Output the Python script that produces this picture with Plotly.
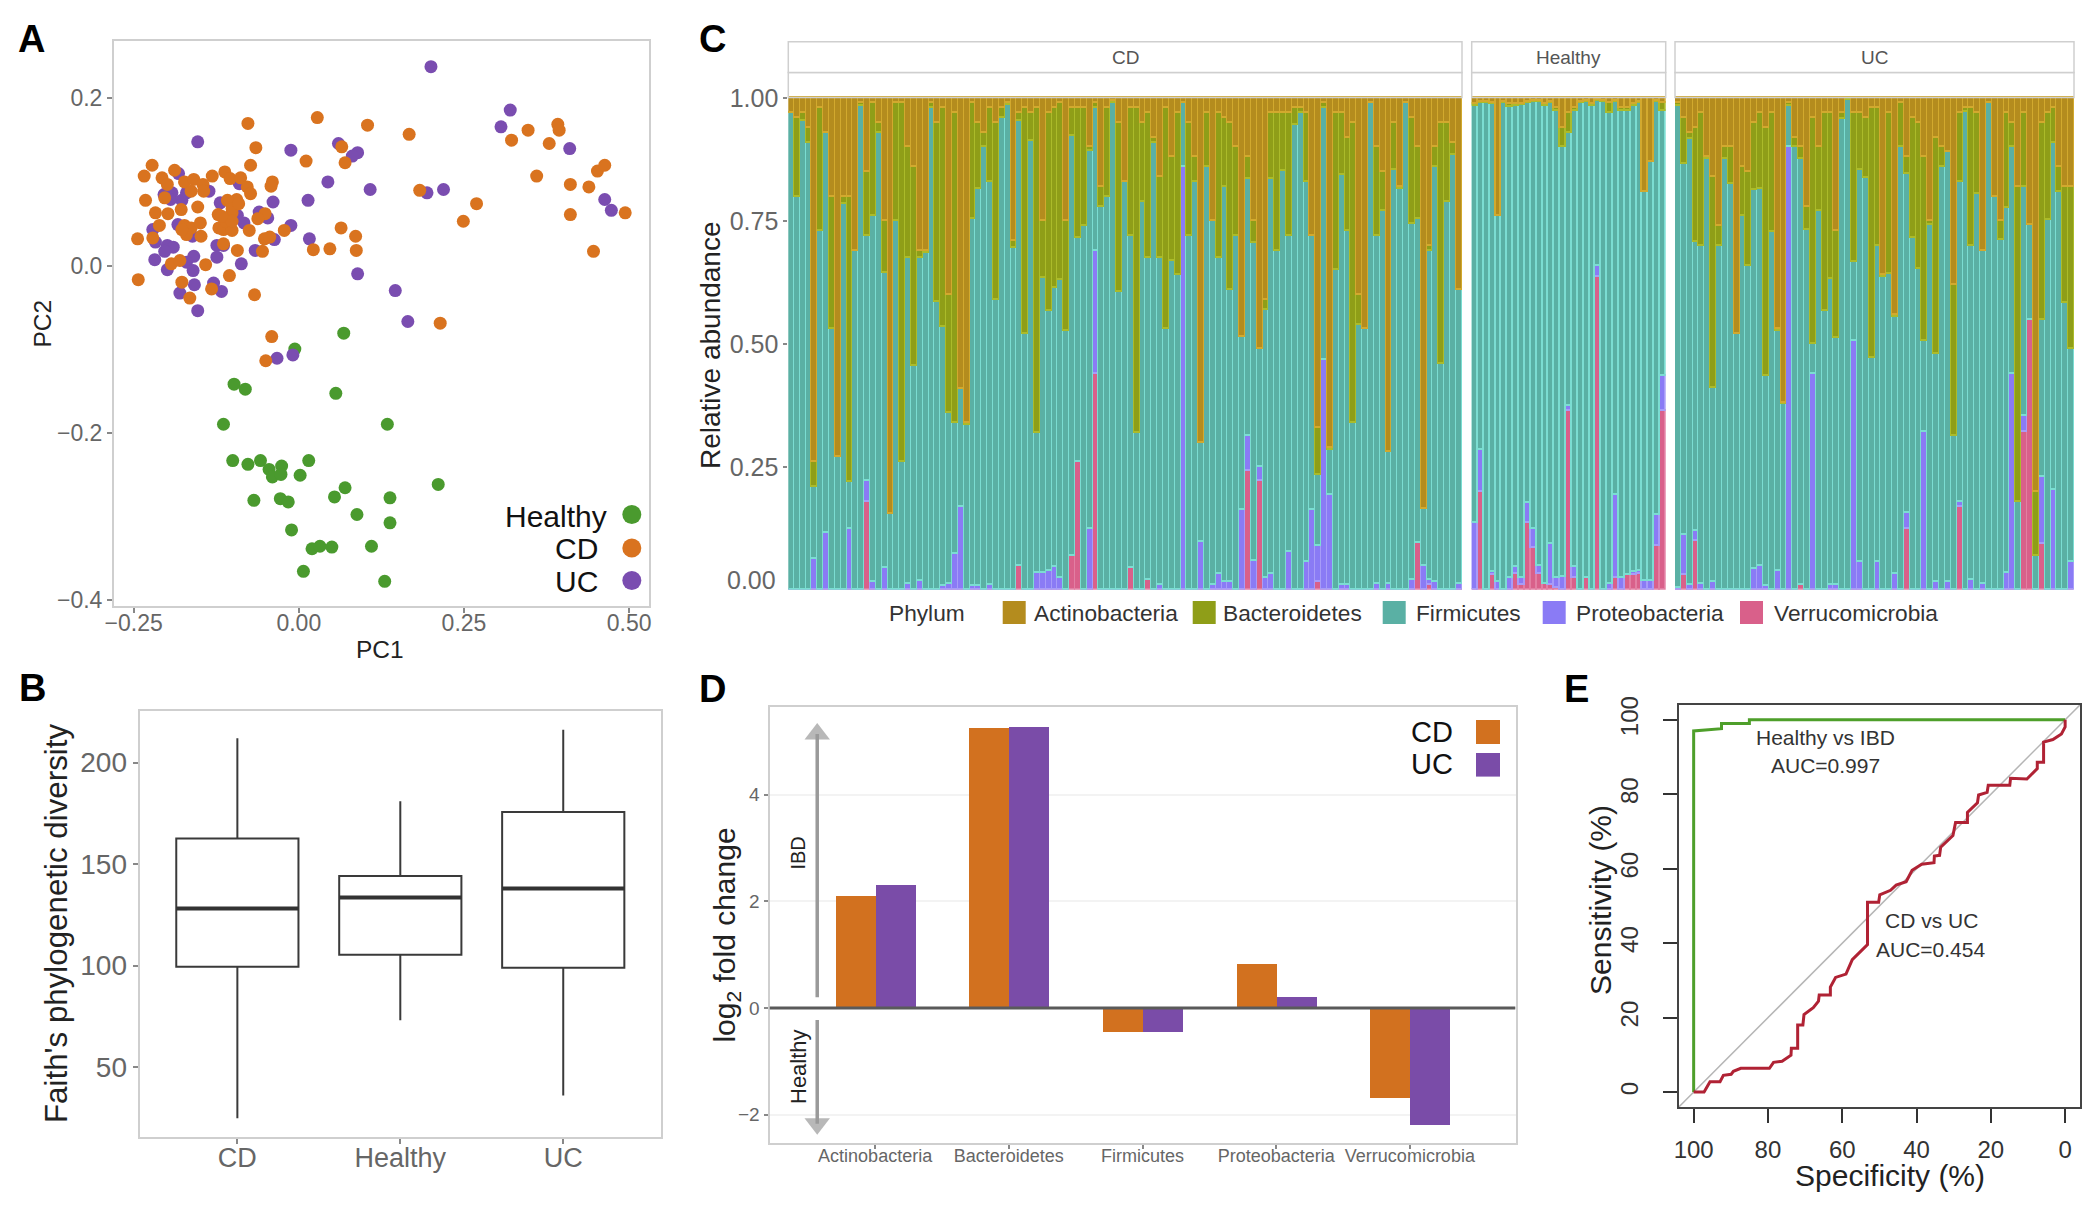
import numpy as np
import plotly.graph_objects as go

W, H = 2100, 1214      # reference picture
M = 8                  # page margin of the browser body
FW, FH = W - 2 * M, H - 2 * M   # figure fits inside the page without overflow
FONT = "Liberation Sans"
ORANGE, PURPLE, GREEN = "#D9731F", "#7A4DB0", "#4A9A2E"
C_ACT, C_BAC, C_FIR, C_PRO, C_VER = "#B48C1E", "#8F9E18", "#5AB0A4", "#8A7BF5", "#D9608A"
L_ACT, L_BAC, L_FIR, L_PRO, L_VER = "#D2A92E", "#ABBB2A", "#7BDDD2", "#A79CF8", "#E27FA3"

# ---------- Panel A ----------
healthy_pc1 = [0.068,-0.006,-0.098,-0.081,0.056,-0.114,0.134,-0.100,-0.077,-0.058,-0.045,-0.026,-0.040,-0.027,0.002,0.015,0.211,0.070,0.054,0.138,-0.068,-0.028,-0.016,0.088,0.138,-0.011,0.020,0.032,0.050,0.110,0.007,0.130]
healthy_pc2 = [-0.081,-0.100,-0.142,-0.148,-0.153,-0.190,-0.190,-0.2335,-0.238,-0.2335,-0.244,-0.240,-0.253,-0.250,-0.251,-0.2335,-0.262,-0.266,-0.277,-0.278,-0.281,-0.279,-0.283,-0.298,-0.308,-0.3165,-0.339,-0.336,-0.337,-0.336,-0.366,-0.378]
uc_pc1 = [0.200,0.320,0.306,-0.153,0.060,-0.012,0.410,0.089,0.081,0.044,0.108,0.194,0.219,0.014,0.463,0.473,-0.182,-0.204,-0.192,-0.170,-0.177,-0.136,-0.090,-0.119,-0.039,-0.060,-0.047,-0.093,-0.083,-0.183,-0.012,0.016,-0.037,-0.066,-0.124,-0.114,-0.221,-0.217,-0.199,-0.190,-0.203,-0.159,-0.124,-0.218,-0.170,-0.087,-0.199,-0.160,-0.158,-0.129,-0.180,-0.117,-0.153,0.089,0.146,0.165,-0.009,-0.033,-0.194,-0.161]
uc_pc2 = [0.238,0.186,0.166,0.148,0.146,0.138,0.140,0.135,0.131,0.100,0.091,0.087,0.091,0.078,0.079,0.066,0.110,0.085,0.087,0.087,0.078,0.089,0.098,0.075,0.076,0.064,0.057,0.060,0.051,0.049,0.048,0.032,0.031,0.018,0.024,0.024,0.043,0.028,0.024,0.022,0.017,0.011,0.010,0.007,0.004,0.002,-0.005,-0.006,-0.023,-0.021,-0.033,-0.031,-0.054,-0.010,-0.030,-0.067,-0.107,-0.111,0.079,0.035]
cd_pc1 = [0.028,-0.077,0.104,0.167,-0.065,0.065,0.011,0.070,-0.222,-0.073,-0.234,-0.188,-0.207,-0.199,-0.173,-0.159,-0.145,-0.131,-0.112,-0.104,-0.088,-0.078,-0.073,-0.040,-0.042,-0.232,-0.203,-0.178,-0.153,-0.217,-0.198,-0.122,-0.101,-0.094,-0.108,-0.101,-0.051,-0.062,-0.211,-0.121,-0.173,-0.163,-0.149,-0.170,-0.148,-0.114,-0.101,-0.075,-0.022,0.064,0.086,-0.244,-0.221,-0.114,-0.052,-0.044,0.022,0.047,0.087,-0.093,-0.055,-0.193,-0.180,-0.141,-0.243,-0.105,-0.177,-0.132,-0.067,-0.165,0.214,-0.041,-0.050,0.183,0.269,0.249,0.322,0.347,0.392,0.394,0.379,0.360,0.411,0.439,0.452,0.463,0.411,0.494,0.446,-0.163,-0.177,-0.144,-0.091,-0.111,-0.101,-0.117]
cd_pc2 = [0.177,0.170,0.168,0.157,0.141,0.142,0.125,0.123,0.120,0.120,0.107,0.114,0.105,0.097,0.100,0.103,0.097,0.107,0.112,0.104,0.105,0.094,0.086,0.100,0.095,0.078,0.081,0.067,0.070,0.063,0.062,0.061,0.063,0.079,0.078,0.068,0.062,0.056,0.048,0.045,0.048,0.045,0.051,0.037,0.035,0.043,0.042,0.042,0.042,0.045,0.035,0.032,0.033,0.026,0.032,0.034,0.019,0.020,0.018,0.018,0.017,0.002,0.006,0.001,-0.017,-0.012,-0.020,-0.028,-0.035,-0.039,-0.069,-0.085,-0.114,0.090,0.074,0.053,0.150,0.162,0.169,0.162,0.146,0.107,0.097,0.094,0.113,0.120,0.061,0.063,0.017,0.089,0.043,0.089,0.074,0.053,0.053,0.059]
legend_groups = ["Healthy", "CD", "UC"]

# ---------- Panel B ----------
box_groups = ["CD", "Healthy", "UC"]
box_q1 = [99.4, 105.3, 98.9]
box_med = [128.1, 133.5, 137.9]
box_q3 = [162.6, 144.1, 175.6]
box_lo = [24.8, 73.0, 36.0]
box_hi = [212.0, 180.9, 216.2]

# ---------- Panel C ----------
cd_firm_top = [.97,.80,.953,.91,.21,.73,.93,.53,.27,.785,.22,.69,.985,.72,.76,.93,.645,.155,.75,.26,.675,.455,.675,.685,.98,.585,.535,.36,.34,.41,.335,.755,.815,.90,.83,.59,.96,.987,.695,.953,.52,.913,.32,.635,.567,.615,.63,.527,.923,.716,.74,.893,.98,.78,.80,.99,.607,.83,.72,.32,.79,.675,.91,.675,.53,.67,.64,.99,
 .72,.83,.30,.86,.75,.675,.82,.61,.72,.515,.835,.705,.49,.57,.835,.69,.853,.72,.945,.97,.83,.72,.235,.98,.285,.65,.845,.73,.34,.54,.53,.99,.72,.77,.28,.855,.815,.99,.745,.755,.165,.69,.86,.46,.79,.885,.61]
cd_actino = [.03,.04,.03,.06,.74,.02,.07,.20,.73,.20,.20,.31,.01,.15,.01,.05,.25,.845,.01,.01,.10,.14,.31,.31,.01,.05,.02,.40,.03,.59,.66,.01,.05,.07,.02,.05,.02,.01,.29,.03,.02,.03,.02,.25,.03,.02,.01,.25,.02,.02,.02,.10,.01,.18,.02,.005,.05,.17,.02,.02,.05,.03,.08,.16,.02,.12,.03,.01,
 .05,.12,.70,.03,.25,.03,.04,.05,.10,.485,.12,.25,.51,.41,.03,.03,.03,.03,.02,.02,.03,.28,.67,.01,.71,.03,.03,.08,.05,.40,.47,.01,.10,.15,.72,.05,.18,.01,.04,.10,.835,.30,.10,.05,.05,.09,.39]
cd_verr_idx = [13,39,48,49,52,58,61,78,80,90,107,109]
cd_verr = [.18,.05,.07,.26,.44,.045,.02,.242,.222,.017,.096,.01]
cd_prot_idx = [4,6,10,13,14,16,20,22,26,27,28,29,31,32,34,42,43,44,45,46,51,52,63,67,70,72,73,74,75,77,78,79,80,81,82,85,88,89,90,91,92,94,95,100,102,106,108,109,110,114]
cd_prot_top = [.063,.117,.125,.222,.017,.045,.013,.018,.008,.013,.073,.17,.008,.008,.01,.035,.035,.04,.048,.024,.125,.69,.01,.86,.097,.01,.033,.017,.017,.163,.314,.06,.25,.025,.033,.077,.057,.163,.09,.467,.194,.01,.01,.012,.012,.02,.05,.02,.017,.013]

hl_firm_top = [.985,.99,.99,.988,.76,.99,.983,.985,.986,.99,.993,.993,.985,.99,.975,.90,.93,.975,.99,.993,.985,.995,.993,.97,.993,.975,.975,.985,.99,.81,.87,.993,.975]
hl_actino = [.012,.008,.008,.01,.24,.008,.012,.012,.012,.008,.006,.006,.012,.008,.02,.06,.03,.02,.008,.006,.012,.004,.006,.01,.006,.02,.02,.012,.008,.19,.13,.006,.01]
hl_verr_idx = [1,3,7,8,9,10,11,12,13,14,16,17,19,21,24,26,27,28,31,32]
hl_verr = [.20,.03,.033,.01,.137,.085,.033,.013,.01,.005,.365,.025,.025,.637,.025,.03,.03,.033,.09,.365]
hl_prot_idx = [0,1,3,4,6,7,8,9,10,11,13,14,15,16,17,21,23,24,25,27,28,29,30,31,32]
hl_prot_top = [.137,.285,.037,.017,.025,.047,.025,.178,.125,.05,.093,.025,.027,.375,.047,.66,.013,.194,.025,.037,.04,.018,.018,.153,.436]

uc_firm_top = [.985,.867,.917,.708,.70,.877,.412,.70,.877,.825,.52,.76,.66,.813,.815,.436,.728,.527,.378,.985,.90,.877,.732,.50,.77,.567,.632,.513,.957,.997,.668,.855,.838,.473,.70,.636,.642,.555,.90,.846,.715,.652,.507,.743,.48,.86,.89,.314,.83,.972,.70,.806,.69,.99,.80,.712,.776,.90,.18,.82,.742,.07,.55,.752,.91,.81,.583,.49]
uc_actino = [.01,.04,.07,.06,.03,.12,.16,.26,.10,.10,.48,.14,.15,.05,.03,.06,.03,.47,.62,.01,.08,.10,.22,.04,.10,.03,.03,.27,.03,.0,.03,.03,.04,.02,.02,.36,.03,.44,.01,.12,.04,.05,.12,.25,.08,.10,.11,.38,.03,.02,.02,.03,.31,.01,.20,.25,.03,.05,.18,.03,.26,.80,.05,.03,.02,.14,.18,.18]
uc_verr_idx = [1,3,21,39,48,59,60,62]
uc_verr = [.03,.10,.01,.125,.17,.322,.55,.093]
uc_prot_idx = [0,1,2,3,4,6,13,14,15,17,19,23,26,27,30,31,34,37,39,42,44,46,48,50,52,56,57,59,62,64,67]
uc_prot_top = [.005,.113,.01,.12,.013,.017,.043,.05,.008,.04,.90,.44,.01,.01,.507,.057,.057,.033,.157,.322,.017,.017,.18,.02,.013,.035,.44,.355,.23,.203,.057]

facet_names = ["CD", "Healthy", "UC"]
phyla = ["Actinobacteria", "Bacteroidetes", "Firmicutes", "Proteobacteria", "Verrucomicrobia"]
abund_ticks = [.25, .5, .75, 1]
abund_ticktext = ["0.25", "0.50", "0.75", "1.00"]

# ---------- Panel D ----------
fold_cd = [2.10, 5.26, -0.45, 0.83, -1.68]
fold_uc = [2.31, 5.28, -0.44, 0.22, -2.18]
arrow_up_y = [0.2, 5.14]
arrow_down_y = [-0.225, -2.17]

# ---------- Panel E ----------
healthy_spec = [100,100,92.5,92.5,85,85,0]
healthy_sens = [0,97,97.6,99,99,100,100]
cduc_spec = [100,97.2,95.6,92.9,92,89.9,89.3,87.3,79.6,78.5,76.2,73.8,73.7,72,72,70.6,70.3,67.8,66.4,66.2,63.2,63.2,61.8,59,57.3,53.2,53.2,50.2,49.9,47,45.5,42.8,41.2,38.6,35.3,35.2,33.8,33.5,30.2,29.5,26.3,26.3,23.6,23.3,21,20.7,14.9,14.7,10.3,7.5,7.5,5.8,5.8,3.3,1,0,0]
cduc_sens = [0,0,2.8,2.8,4.5,4.8,5.6,6.4,6.4,8,8.3,9.9,11.8,11.8,18,18,20.8,22.7,24.4,26.1,26.1,28.2,30.8,31.7,35.6,39.6,51,51,53,54.2,55.6,56.5,59.6,61.2,61.6,63.4,63.6,65.8,68.9,72.4,72.4,75.1,77.7,79.8,80.5,82.4,82.4,84.3,84.1,86.9,88.6,88.6,94,94.7,96.2,98.1,100]

# ---------- helpers ----------
def px(x): return (x - M) / FW
def py(y): return 1 - (y - M) / FH
def dx(a, b): return [px(a), px(b)]
def dy(top, bottom): return [py(bottom), py(top)]

annotations, shapes = [], []
def T(text, x, y, size, color="#222", bold=False, rot=0, anchor="center"):
    annotations.append(dict(text=f"<b>{text}</b>" if bold else text, x=px(x), y=py(y),
                            xref="paper", yref="paper", showarrow=False, textangle=rot,
                            xanchor=anchor, yanchor="middle",
                            font=dict(family=FONT, size=size, color=color)))
def R(x0, y0, x1, y1, fill, line="rgba(0,0,0,0)", lw=0, layer="above"):
    shapes.append(dict(type="rect", xref="paper", yref="paper", x0=px(x0), x1=px(x1),
                       y0=py(y0), y1=py(y1), fillcolor=fill, layer=layer,
                       line=dict(color=line, width=lw)))

def axis_common(size, color="#666", border="#CFCFCF", bw=2, ticklen=5, tickcolor="#888"):
    return dict(showgrid=False, zeroline=False, showline=True, linecolor=border, linewidth=bw, mirror=True,
                automargin=False, ticks="outside", ticklen=ticklen, tickwidth=1.5, tickcolor=tickcolor,
                tickfont=dict(family=FONT, size=size, color=color))

fig = go.Figure()
layout = dict(width=FW, height=FH, margin=dict(l=0, r=0, t=0, b=0, autoexpand=False), paper_bgcolor="white",
              plot_bgcolor="white", showlegend=False, barmode="stack", bargap=0)

# Panel A
layout["xaxis"] = dict(domain=dx(114, 649), range=[-0.2797, 0.530], tickvals=[-.25, 0, .25, .5],
                       ticktext=["\u22120.25", "0.00", "0.25", "0.50"], anchor="y", ticklabelstandoff=-10, **axis_common(23))
layout["yaxis"] = dict(domain=dy(41, 606), range=[-0.4075, 0.2687], tickvals=[-.4, -.2, 0, .2],
                       ticktext=["\u22120.4", "\u22120.2", "0.0", "0.2"], anchor="x", **axis_common(23))
def scatter(x, y, c, size=13):
    fig.add_trace(go.Scatter(x=x, y=y, mode="markers", marker=dict(color=c, size=size, line=dict(width=0)),
                             xaxis="x", yaxis="y", cliponaxis=False))
scatter(healthy_pc1, healthy_pc2, GREEN)
scatter(uc_pc1, uc_pc2, PURPLE)
scatter(cd_pc1, cd_pc2, ORANGE)
scatter([0.504] * 3, [-0.298, -0.338, -0.377], [GREEN, ORANGE, PURPLE], size=19)
for g, xr, yc in zip(legend_groups, [609, 600, 600], [516, 548.6, 581]):
    T(g, xr, yc, 30, "#111", anchor="right")
T("PC1", 379.5, 649, 24.5, "#222")
T("PC2", 41.6, 324, 24.5, "#222", rot=-90)

# Panel B
layout["xaxis2"] = dict(domain=dx(139.6, 661), range=[-0.6, 2.6], tickvals=[0, 1, 2], ticktext=box_groups,
                        anchor="y2", ticklabelstandoff=-9, **axis_common(27))
layout["yaxis2"] = dict(domain=dy(711, 1137), range=[15.5, 225.4], tickvals=[50, 100, 150, 200],
                        anchor="x2", **axis_common(28))
for i in range(3):
    fig.add_trace(go.Box(x=[i], q1=[box_q1[i]], median=[box_med[i]], q3=[box_q3[i]],
                         lowerfence=[box_lo[i]], upperfence=[box_hi[i]], width=0.75, whiskerwidth=0,
                         boxpoints=False, fillcolor="white", line=dict(color="#3a3a3a", width=2),
                         xaxis="x2", yaxis="y2"))
    fig.add_trace(go.Scatter(x=[i - .375, i + .375], y=[box_med[i]] * 2, mode="lines",
                             line=dict(color="#333", width=4), xaxis="x2", yaxis="y2"))
T("Faith's phylogenetic diversity", 56, 924, 31.3, "#222", rot=-90)

# Panel D
layout["xaxis3"] = dict(domain=dx(769.5, 1515.5), range=[-0.79, 4.79], tickvals=list(range(5)), ticktext=phyla,
                        anchor="y3", ticklabelstandoff=-9, **axis_common(18, ticklen=4))
layout["yaxis3"] = dict(domain=dy(706.6, 1143), range=[-2.533, 5.655], tickvals=[-2, 0, 2, 4],
                        ticktext=["\u22122", "0", "2", "4"], anchor="x3", **axis_common(19, ticklen=4))
layout["yaxis3"].update(showgrid=True, gridcolor="#F3F3F3", gridwidth=1.5)
pos = np.arange(5)
fig.add_trace(go.Bar(x=pos - .15, y=fold_cd, width=.3, marker=dict(color="#D2711F", line=dict(width=0)), xaxis="x3", yaxis="y3"))
fig.add_trace(go.Bar(x=pos + .15, y=fold_uc, width=.3, marker=dict(color="#7A4CA8", line=dict(width=0)), xaxis="x3", yaxis="y3"))
shapes.append(dict(type="line", xref="x3", yref="y3", x0=-0.79, x1=4.79, y0=0, y1=0, line=dict(color="#5a5a5a", width=3), layer="above"))
for ys, sym in [(arrow_up_y, "triangle-up"), (arrow_down_y, "triangle-down")]:
    fig.add_trace(go.Scatter(x=[-0.433, -0.433], y=ys, mode="lines+markers", xaxis="x3", yaxis="y3",
                             line=dict(color="#9a9a9a", width=3.5),
                             marker=dict(symbol=["circle", sym], size=[0, 22], color="#9a9a9a", line=dict(width=0))))
R(1476, 720, 1500, 744, "#D2711F")
R(1476, 753, 1500, 776.6, "#7A4CA8")
T("CD", 1455, 732, 29, "#111", anchor="right")
T("UC", 1455, 764, 29, "#111", anchor="right")
T("IBD", 798, 853.6, 20, "#222", rot=-90)
T("Healthy", 798, 1067, 22, "#222", rot=-90)
T("log<sub>2</sub> fold change", 725.6, 935, 30, "#222", rot=-90)

# Panel E
e_ax = axis_common(24, color="#333", border="#444", bw=2, ticklen=14, tickcolor="#333")
layout["xaxis4"] = dict(domain=dx(1678.8, 2080), range=[104, -4], tickvals=[100, 80, 60, 40, 20, 0], anchor="y4",
                        ticklabelstandoff=6, **e_ax)
layout["yaxis4"] = dict(domain=dy(704.9, 1107), range=[-4, 104], tickvals=[0, 20, 40, 60, 80, 100], anchor="x4",
                        tickangle=-90, ticklabelstandoff=15, **e_ax)
fig.add_trace(go.Scatter(x=[104, -4], y=[-4, 104], mode="lines", line=dict(color="#B5B5B5", width=1.5), xaxis="x4", yaxis="y4"))
fig.add_trace(go.Scatter(x=healthy_spec, y=healthy_sens, mode="lines", line=dict(color="#4E9F2A", width=3), xaxis="x4", yaxis="y4"))
fig.add_trace(go.Scatter(x=cduc_spec, y=cduc_sens, mode="lines", line=dict(color="#B02234", width=3), xaxis="x4", yaxis="y4"))
T("Healthy vs IBD", 1825, 737, 21, "#333")
T("AUC=0.997", 1825, 765, 21, "#333")
T("CD vs UC", 1931, 920, 21, "#333")
T("AUC=0.454", 1930, 949, 21, "#333")
T("Specificity (%)", 1890, 1175, 30, "#222")
T("Sensitivity (%)", 1600, 900, 30, "#222", rot=-90)

# Panel C
def stacked(firm_top, actino, vi, v, pi, p, n_x, n_y):
    ft = np.array(firm_top)
    verr = np.zeros(len(ft)); verr[vi] = v
    ptop = verr.copy(); ptop[pi] = np.maximum(ptop[pi], p)
    act = np.minimum(np.array(actino), 1 - ft)
    series = [verr, ptop - verr, ft - ptop, 1 - ft - act, act]
    colors = [C_VER, C_PRO, C_FIR, C_BAC, C_ACT]
    lights = [L_VER, L_PRO, L_FIR, L_BAC, L_ACT]
    xs = np.arange(len(ft))
    for s, c, l in zip(series, colors, lights):
        fig.add_trace(go.Bar(x=xs, y=s, marker=dict(color=c, line=dict(width=1.5, color=l)), xaxis=n_x, yaxis=n_y))

facets = [("x5", "y5", 788.3, 1462, len(cd_firm_top)), ("x6", "y6", 1471.7, 1665.7, len(hl_firm_top)),
          ("x7", "y7", 1675, 2074, len(uc_firm_top))]
data_c = [(cd_firm_top, cd_actino, cd_verr_idx, cd_verr, cd_prot_idx, cd_prot_top),
          (hl_firm_top, hl_actino, hl_verr_idx, hl_verr, hl_prot_idx, hl_prot_top),
          (uc_firm_top, uc_actino, uc_verr_idx, uc_verr, uc_prot_idx, uc_prot_top)]
for k, ((xn, yn, x0, x1, n), d, name) in enumerate(zip(facets, data_c, facet_names)):
    nx, ny = "xaxis" + xn[1:], "yaxis" + yn[1:]
    layout[nx] = dict(domain=dx(x0, x1), range=[-.5, n - .5], anchor=yn, showticklabels=False, ticks="",
                      showgrid=False, zeroline=False, showline=False, automargin=False)
    ya = dict(domain=dy(72.6, 589.8), range=[0, 1.0514], anchor=xn, showgrid=False, zeroline=False, showline=False,
              automargin=False)
    if k == 0:
        ya.update(tickvals=abund_ticks, ticktext=abund_ticktext, ticks="outside", ticklen=4, tickwidth=1.5,
                  tickcolor="#888", tickfont=dict(family=FONT, size=25, color="#666"))
    else:
        ya.update(showticklabels=False, ticks="")
    layout[ny] = ya
    stacked(*d, xn, yn)
    R(x0, 72.6, x1, 97.5, "rgba(0,0,0,0)", "#CFCFCF", 1.5)
    R(x0, 41.7, x1, 72.6, "white", "#CFCFCF", 1.5)
    T(name, (x0 + x1) / 2, 57.5, 19, "#555")
T("0.00", 778, 579.5, 25, "#666", anchor="right")
T("Relative abundance", 710, 345, 28, "#222", rot=-90)
T("Phylum", 927, 613, 22.7, "#333")
for name, col, s0, tx in zip(phyla, [C_ACT, C_BAC, C_FIR, C_PRO, C_VER],
                             [1002.7, 1192.7, 1382.7, 1542.7, 1740], [1031.7, 1220.7, 1414, 1574, 1771.7]):
    R(s0, 601, s0 + 23, 624, col)
    T(name, tx, 613, 22.7, "#333", anchor="left")

# panel letters
for letter, x, y in [("A", 31, 39), ("B", 32, 688), ("C", 712, 39), ("D", 712, 689), ("E", 1576.5, 689)]:
    T(letter, x, y, 38, "#000", bold=True)

layout["annotations"] = annotations
layout["shapes"] = shapes
fig.update_layout(**layout)
fig.write_html("out.html", config={"displayModeBar": False})
